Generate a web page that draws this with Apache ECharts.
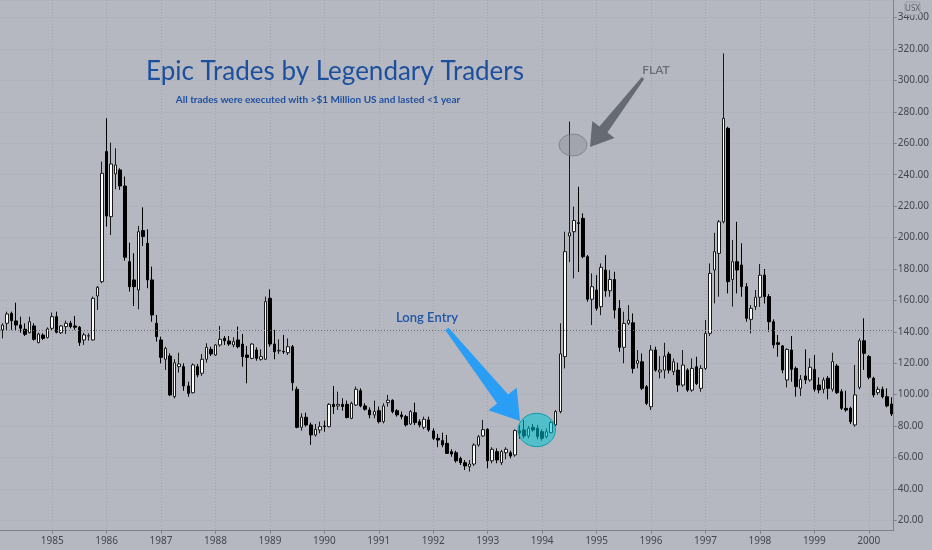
<!DOCTYPE html>
<html><head><meta charset="utf-8">
<script src="https://cdn.jsdelivr.net/npm/echarts@6/dist/echarts.min.js"></script>
<style>html,body{margin:0;padding:0;background:#b5b8c0;}#c{width:932px;height:550px;}</style>
</head><body><div id="c"></div>
<script>
// Monthly candles, Feb 1984 .. Jun 2000
const startYear = 1984;
const startMonth = 2;
const opens = [141.2,145.4,151.7,146.9,144.3,141.6,139.4,143.7,133.1,137.9,136.3,142.2,149.6,139.4,143.3,145.4,143.7,142.9,134.8,137.3,
134.8,162.8,171.9,254.7,213.3,240.5,243.0,232.8,184.6,173.0,166.6,204.4,196.3,173.0,145.4,134.8,122.5,124.6,98.7,117.8,
117.8,105.5,101.2,117.8,113.6,122.5,128.8,125.2,131.6,135.8,134.1,131.6,134.8,132.2,125.2,123.1,128.4,122.5,122.5,161.3,
132.2,127.8,127.5,126.7,130.5,103.4,79.2,85.6,80.7,74.3,77.5,80.1,79.6,93.8,92.8,93.8,93.8,84.9,93.4,102.5,
92.8,90.2,87.1,89.8,82.8,94.9,96.4,89.8,87.1,86.0,81.3,88.5,82.8,79.2,83.9,76.9,72.2,70.7,69.0,63.7,
63.0,59.4,56.7,54.1,55.8,67.9,73.7,77.9,57.9,63.7,56.7,63.0,63.0,61.6,77.0,77.5,73.7,79.2,78.6,76.4,
73.3,75.8,80.7,89.2,124.2,201.0,203.7,209.4,212.2,187.8,160.7,166.6,156.0,179.3,166.1,173.3,154.9,130.1,145.4,145.7,
119.9,120.9,105.0,92.3,128.4,114.4,115.6,125.8,114.6,115.6,106.1,115.6,102.9,117.7,104.0,116.7,139.0,179.3,189.9,210.0,
269.5,173.3,184.6,182.5,168.7,147.9,156.0,162.0,176.1,162.4,146.4,133.0,131.0,109.3,128.4,116.7,104.0,111.9,109.3,116.1,
106.1,103.4,110.4,103.4,118.2,101.9,91.3,91.3,80.7,104.6,134.3,124.2,110.4,101.2,103.4,98.7,94.0];
const closes = [144.3,151.3,147.1,144.3,142.2,138.4,146.4,135.2,138.6,135.8,141.8,149.6,139.7,143.7,145.4,143.3,142.9,133.1,138.0,137.5,
161.3,168.3,240.9,213.7,246.8,246.2,232.8,187.4,168.7,168.7,203.7,200.6,173.0,150.7,136.9,123.7,129.5,99.8,120.3,119.5,
105.5,100.8,118.9,112.5,122.5,130.1,125.9,131.6,135.2,134.3,132.2,133.7,130.5,124.2,123.7,132.2,123.1,124.2,159.2,132.2,
127.3,128.2,127.3,130.5,107.6,79.2,85.6,80.7,74.3,77.9,79.6,79.7,93.8,92.4,93.8,92.4,85.4,94.5,103.4,92.8,
90.7,87.1,89.2,82.8,92.8,96.4,89.2,87.1,86.0,80.7,89.2,82.2,80.7,84.3,77.5,72.2,71.1,68.0,62.6,62.2,
57.9,56.7,54.6,55.8,67.9,73.2,77.7,57.9,65.2,58.4,63.7,65.2,60.9,77.1,75.6,73.7,78.6,77.5,73.3,72.2,
76.4,82.2,89.2,125.9,191.0,203.0,210.8,209.0,187.8,160.7,168.7,154.9,181.0,166.1,173.3,153.8,130.1,145.3,147.4,116.7,
121.6,104.0,94.4,128.4,115.6,115.6,124.5,115.6,120.9,106.1,118.8,102.9,116.7,107.1,116.7,139.0,177.2,191.0,210.0,275.8,
171.9,184.6,179.3,168.7,148.6,154.9,162.0,176.0,162.4,146.4,131.6,132.0,115.7,128.8,116.1,105.1,109.7,109.3,117.4,103.4,
103.0,109.3,104.0,121.0,101.2,91.3,90.2,82.8,99.8,134.3,126.3,111.0,99.8,103.4,98.7,92.8,87.7];
const lows = [135.8,141.2,141.2,141.2,139.4,137.3,139.0,134.4,132.7,134.8,135.8,141.2,139.0,138.6,138.6,142.2,141.2,131.0,131.6,134.4,
134.4,153.9,170.9,206.9,201.6,230.7,230.3,185.3,165.6,156.4,154.3,194.6,167.7,146.4,133.7,119.9,115.7,99.1,97.6,114.0,
102.5,98.7,100.8,111.0,111.9,120.3,124.6,124.6,130.5,131.6,131.0,130.1,129.5,117.8,107.2,122.5,121.6,121.6,122.1,130.5,
122.5,125.9,125.9,125.2,102.5,78.6,77.1,79.6,68.0,73.3,75.4,76.4,79.2,87.7,90.2,89.8,84.9,84.3,92.8,91.9,
89.8,84.9,84.9,81.7,81.7,92.4,88.1,86.0,84.3,79.6,80.7,80.7,79.2,77.9,76.4,71.1,66.5,66.5,62.2,60.5,
56.7,55.2,52.0,51.0,54.6,66.9,73.2,53.1,56.3,56.3,55.2,58.8,59.4,60.5,72.0,72.2,72.2,76.4,71.6,70.7,
72.2,75.4,80.0,88.1,116.7,184.3,174.0,178.0,186.8,159.2,144.3,153.4,150.6,162.3,162.3,148.5,127.3,119.9,144.3,113.5,
116.7,102.9,93.3,90.2,114.6,110.3,110.3,113.5,112.4,101.8,105.0,101.8,101.8,106.1,101.8,115.6,137.3,158.1,162.3,209.0,
164.4,156.0,164.4,162.3,146.4,139.0,153.9,155.9,158.0,140.0,129.5,124.2,113.6,104.6,108.2,98.7,99.1,106.8,108.2,101.9,
100.8,100.8,97.0,101.9,100.4,90.2,89.1,81.3,79.6,103.4,115.7,109.7,98.3,99.8,97.6,91.9,86.4];
const highs = [145.4,152.8,152.8,158.5,149.6,145.4,149.6,145.4,139.4,139.0,142.8,152.2,152.8,144.3,147.1,146.9,150.1,143.7,139.4,139.0,
162.4,169.2,248.3,275.9,260.4,256.8,244.1,238.8,196.7,190.0,207.4,219.2,205.2,181.5,150.7,136.9,130.5,126.3,122.5,126.7,
119.9,108.2,119.9,119.5,125.9,132.7,130.5,132.2,143.7,137.3,137.3,136.5,143.3,138.6,131.0,132.7,130.1,128.8,162.4,167.0,
141.2,135.2,138.0,135.8,131.6,105.1,88.1,88.5,82.2,81.3,82.8,83.4,94.5,105.5,101.9,97.7,96.2,95.5,105.1,104.0,
94.5,91.9,96.2,92.4,94.5,99.8,97.0,90.7,89.2,87.1,90.2,94.9,84.3,86.0,86.0,78.6,75.0,75.8,74.3,65.2,
64.3,60.5,58.4,58.4,69.0,74.3,83.9,78.6,66.5,65.8,64.8,66.5,64.3,77.9,80.5,83.9,80.1,81.3,80.7,77.9,
78.6,83.4,90.2,145.4,203.7,273.8,219.7,232.3,215.4,188.9,177.2,176.1,183.5,188.8,179.3,178.2,160.2,152.8,157.0,151.7,
128.4,126.2,106.1,131.5,130.5,124.5,133.0,127.3,123.0,120.3,128.4,116.7,123.0,124.1,118.8,147.5,183.5,203.0,211.1,317.2,
270.5,198.4,210.0,196.3,171.0,157.0,166.6,183.1,180.0,164.0,147.9,138.0,131.6,129.5,137.3,117.8,112.5,128.8,123.1,125.2,
111.0,111.0,111.9,126.7,119.5,103.4,102.5,92.3,118.9,135.8,148.6,125.2,111.4,105.1,105.1,104.0,98.3];
const priceLine = 141.2;
const yMin = 13.38, yMax = 351.19;

const categories = [];
for (let k = 0; k < opens.length; k++) {
  const m = startMonth - 1 + k;
  categories.push((startYear + Math.floor(m / 12)) + '-' + String(m % 12 + 1).padStart(2, '0'));
}
const candles = categories.map((_, i) => [opens[i], closes[i], lows[i], highs[i]]);
const isJan = (idx, val) => String(val).endsWith('-01');

const chart = echarts.init(document.getElementById('c'), null, {renderer: 'canvas'});
const axisCol = '#7f828b', labelCol = '#43464f';
chart.setOption({
  backgroundColor: '#b5b8c0',
  animation: false,
  grid: {left: 0, right: 34.3, top: 0, bottom: 19.3},
  xAxis: {
    type: 'category', data: categories, boundaryGap: true,
    axisLine: {show: true, lineStyle: {color: axisCol}},
    axisTick: {show: true, interval: isJan, alignWithLabel: true, length: 3, lineStyle: {color: axisCol}},
    axisLabel: {interval: isJan, formatter: v => v.slice(0, 4), color: labelCol, fontSize: 10, margin: 5, fontFamily: 'Noto Sans'},
    splitLine: {show: true, interval: isJan, alignWithLabel: true, lineStyle: {color: '#a2a5ad', type: [1, 2], width: 1}}
  },
  yAxis: {
    type: 'value', position: 'right', min: yMin, max: yMax, splitNumber: 17,
    axisLine: {show: true, lineStyle: {color: axisCol}},
    axisTick: {show: true, length: 3, lineStyle: {color: axisCol}},
    axisLabel: {color: labelCol, fontSize: 10, margin: 4, fontFamily: 'Noto Sans', formatter: v => v.toFixed(2), showMinLabel: false, showMaxLabel: false},
    splitLine: {show: true, lineStyle: {color: '#b0b3bb', width: 1}}
  },
  series: [{
    type: 'candlestick', data: candles, barWidth: 3,
    itemStyle: {color: '#ffffff', color0: '#000000', borderColor: '#1a1a1a', borderColor0: '#000000', borderWidth: 1},
    markLine: {silent: true, symbol: 'none', label: {show: false}, animation: false,
      lineStyle: {color: '#6a6d76', type: [1, 2], width: 1}, data: [{yAxis: priceLine}]}
  }],
  graphic: [
    {type: 'text', x: 335, y: 72, z: 100, style: {text: 'Epic Trades by Legendary Traders', align: 'center', verticalAlign: 'middle', fill: '#1d4f9f', font: '26px Lato'}},
    {type: 'text', x: 318, y: 100, z: 100, style: {text: 'All trades were executed with >$1 Million US and lasted <1 year', align: 'center', verticalAlign: 'middle', fill: '#1f50a0', font: 'bold 10px Lato'}},
    {type: 'text', x: 427, y: 318, z: 100, style: {text: 'Long Entry', align: 'center', verticalAlign: 'middle', fill: '#1f56a8', font: '600 13px Lato'}},
    {type: 'text', x: 656, y: 70, z: 100, style: {text: 'FLAT', align: 'center', verticalAlign: 'middle', fill: '#6a6d75', font: '600 12px Lato'}},
    {type: 'polygon', z: 100, shape: {points: [[445.4,330.2],[448.6,327.8],[508.1,394.6],[516.7,387.8],[520,421],[488.5,410.2],[497.1,403.4]]}, style: {fill: '#2a9df4'}},
    {type: 'polygon', z: 100, shape: {points: [[641.8,77.1],[644.2,78.9],[607.4,132.6],[614.5,138.1],[590,147],[592.3,121.1],[599.4,126.6]]}, style: {fill: '#666a72'}},
    {type: 'circle', z: 100, x: 536.7, y: 430, scaleY: 16.7 / 18.7, shape: {cx: 0, cy: 0, r: 18.7}, style: {fill: 'rgba(0,196,210,0.55)', stroke: 'rgba(0,150,165,0.9)', lineWidth: 1}},
    {type: 'circle', z: 100, x: 573, y: 145, scaleY: 11 / 14, shape: {cx: 0, cy: 0, r: 14}, style: {fill: 'rgba(140,143,150,0.45)', stroke: 'rgba(110,113,120,0.7)', lineWidth: 1}},
    {type: 'rect', z: 100, shape: {x: 905, y: 2, width: 15, height: 13, r: 2}, style: {fill: '#b5b8c0', stroke: '#9a9da5', lineWidth: 1}},
    {type: 'text', x: 912.5, y: 9, z: 101, style: {text: 'USX', align: 'center', verticalAlign: 'middle', fill: '#5a5d66', font: '8px Noto Sans'}}
  ]
});
</script></body></html>
